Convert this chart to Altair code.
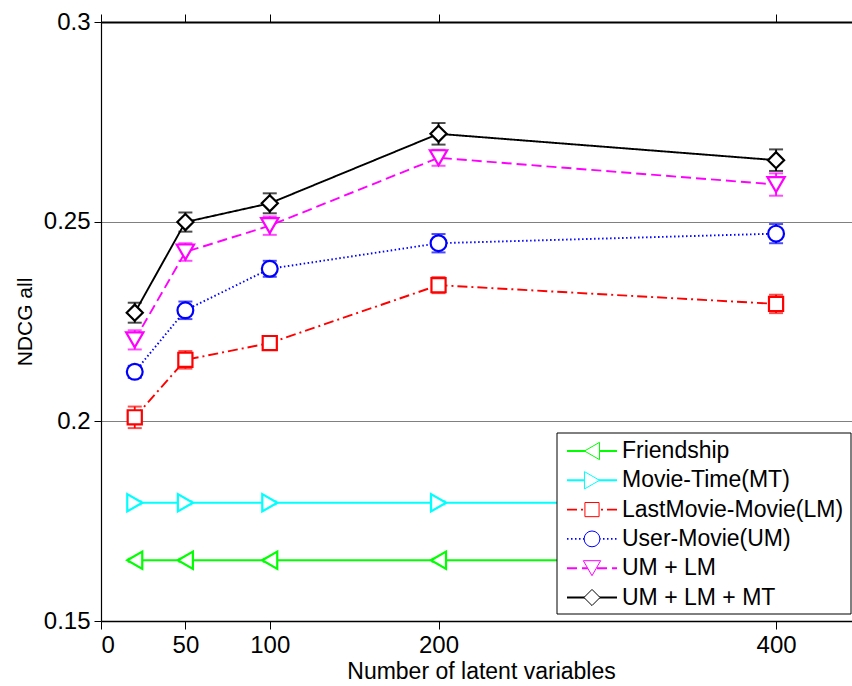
import altair as alt
import pandas as pd

# Number of latent variables (x positions shared by every series)
latent = [20, 50, 100, 200, 400]

# NDCG values per model
friendship = [0.1652, 0.1652, 0.1652, 0.1652, 0.1652]
movie_time = [0.1796, 0.1796, 0.1796, 0.1796, 0.1796]
last_movie = [0.2010, 0.2154, 0.2196, 0.2341, 0.2294]
user_movie = [0.2124, 0.2278, 0.2382, 0.2446, 0.2470]
um_lm = [0.2204, 0.2424, 0.2490, 0.2660, 0.2593]
um_lm_mt = [0.2272, 0.2499, 0.2546, 0.2720, 0.2654]

# Half-widths of the error bars
friendship_err = [0.0004, 0.0004, 0.0004, 0.0004, 0.0004]
movie_time_err = [0.0004, 0.0004, 0.0004, 0.0004, 0.0004]
last_movie_err = [0.0027, 0.0022, 0.0015, 0.0020, 0.0023]
user_movie_err = [0.0015, 0.0022, 0.0020, 0.0023, 0.0024]
um_lm_err = [0.0024, 0.0022, 0.0023, 0.0020, 0.0028]
um_lm_mt_err = [0.0025, 0.0024, 0.0025, 0.0027, 0.0027]

series_names = ["Friendship", "Movie-Time(MT)", "LastMovie-Movie(LM)",
                "User-Movie(UM)", "UM + LM", "UM + LM + MT"]
series_values = [friendship, movie_time, last_movie, user_movie, um_lm, um_lm_mt]
series_errors = [friendship_err, movie_time_err, last_movie_err,
                 user_movie_err, um_lm_err, um_lm_mt_err]

# Line / marker styles
colors = ["#00ff00", "#00ffff", "#ff0000", "#0000ff", "#ff00ff", "#000000"]
shapes = ["triangle-left", "triangle-right", "square", "circle",
          "triangle-down", "diamond"]
sizes = [300, 300, 200, 250, 300, 260]
dashes = [[1, 0], [1, 0], [10, 4, 2, 4], [1.5, 2.5], [10, 5], [1, 0]]

FONT = "Liberation Sans"
W, H = 751, 599
X_DOMAIN = [0, 445]
Y_DOMAIN = [0.15, 0.3]


def xenc(axis=None):
    return alt.X("x:Q", scale=alt.Scale(domain=X_DOMAIN, nice=False, zero=False),
                 axis=axis)


def yenc(field="y", axis=None):
    return alt.Y(f"{field}:Q", scale=alt.Scale(domain=Y_DOMAIN, nice=False, zero=False),
                 axis=axis)


bottom_axis = alt.Axis(
    orient="bottom", values=[0, 50, 100, 200, 400], format="d",
    title="Number of latent variables", grid=False,
    domainColor="black", domainWidth=1.5, tickColor="black", tickWidth=1,
    tickSize=8, labelFont=FONT, labelFontSize=24, labelColor="black",
    labelPadding=4, titleFont=FONT, titleFontSize=23, titleFontWeight="normal",
    titleColor="black", titlePadding=3, titleX=380,
)
top_axis = alt.Axis(
    orient="top", values=[0, 50, 100, 200, 400], labels=False, title=None,
    grid=False, domainColor="black", domainWidth=2, tickColor="black",
    tickWidth=1, tickSize=8,
)
left_axis = alt.Axis(
    orient="left", values=[0.15, 0.2, 0.25, 0.3], format="~g",
    title="NDCG all", grid=True, gridColor="#808080", gridWidth=1,
    domainColor="black", domainWidth=1.2, tickColor="black", tickWidth=1,
    tickSize=7, labelFont=FONT, labelFontSize=24, labelColor="black",
    labelPadding=4, titleFont=FONT, titleFontSize=21, titleFontWeight="normal",
    titleColor="black", titlePadding=8,
)

frame = pd.DataFrame({"x": latent, "y": um_lm_mt})
axes_layers = [
    alt.Chart(frame).mark_point(opacity=0).encode(x=xenc(bottom_axis), y=yenc(axis=left_axis)),
    alt.Chart(frame).mark_point(opacity=0).encode(x=xenc(top_axis), y=yenc()),
]

series_layers = []
for name, vals, errs, col, shp, sz, dash in zip(series_names, series_values, series_errors,
                                                colors, shapes, sizes, dashes):
    df = pd.DataFrame({
        "x": latent,
        "y": vals,
        "lo": [v - e for v, e in zip(vals, errs)],
        "hi": [v + e for v, e in zip(vals, errs)],
        "series": name,
    })
    base = alt.Chart(df)
    series_layers.append(
        base.mark_line(color=col, strokeWidth=1.9, strokeDash=dash)
        .encode(x=xenc(), y=yenc())
    )
    series_layers.append(
        base.mark_rule(color=col, strokeWidth=1.8)
        .encode(x=xenc(), y=yenc("lo"), y2="hi:Q")
    )
    for cap in ("lo", "hi"):
        series_layers.append(
            base.mark_tick(color=col, orient="horizontal", size=14, thickness=2)
            .encode(x=xenc(), y=yenc(cap))
        )
    series_layers.append(
        base.mark_point(shape=shp, size=sz, filled=False, fill="white", fillOpacity=1,
                        stroke=col, strokeWidth=2.2, opacity=1)
        .encode(x=xenc(), y=yenc())
    )

# Legend box drawn inside the plot area (pixel offsets from the plot origin)
LEG_LEFT, LEG_RIGHT, LEG_TOP, LEG_BOTTOM = 456, 750, 411, 592
ROW0, ROW_STEP = 429, 29.3
legend_layers = [
    alt.Chart(pd.DataFrame({"k": [0]})).mark_rect(fill="white", stroke="black", strokeWidth=1)
    .encode(x=alt.value(LEG_LEFT), x2=alt.value(LEG_RIGHT),
            y=alt.value(LEG_TOP), y2=alt.value(LEG_BOTTOM))
]
for i, (name, col, shp, sz, dash) in enumerate(zip(series_names, colors, shapes, sizes, dashes)):
    ry = ROW0 + i * ROW_STEP
    row = alt.Chart(pd.DataFrame({"label": [name]}))
    legend_layers.append(
        row.mark_rule(color=col, strokeWidth=1.9, strokeDash=dash)
        .encode(x=alt.value(LEG_LEFT + 10), x2=alt.value(LEG_LEFT + 60), y=alt.value(ry))
    )
    legend_layers.append(
        row.mark_point(shape=shp, size=sz, filled=False, fill="white", fillOpacity=1,
                       stroke=col, strokeWidth=1, opacity=1)
        .encode(x=alt.value(LEG_LEFT + 35), y=alt.value(ry))
    )
    legend_layers.append(
        row.mark_text(align="left", baseline="middle", font=FONT, fontSize=23, color="black")
        .encode(x=alt.value(LEG_LEFT + 65), y=alt.value(ry), text="label:N")
    )

chart = (
    alt.layer(*axes_layers, *series_layers, *legend_layers)
    .resolve_axis(x="independent", y="independent")
    .properties(
        width=W, height=H,
        autosize=alt.AutoSizeParams(type="none"),
        padding={"left": 101, "top": 22, "right": 0, "bottom": 65},
        background="white",
    )
    .configure_view(stroke=None)
)

chart.save("out.html", embed_options={"renderer": "svg", "actions": False})
